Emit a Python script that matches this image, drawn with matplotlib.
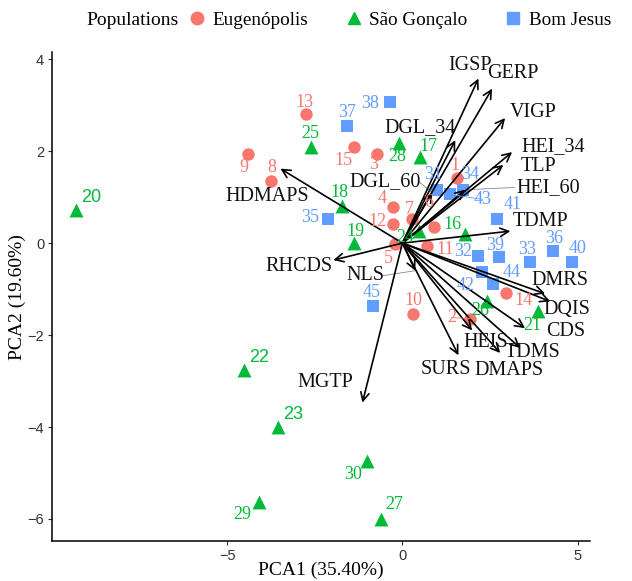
import matplotlib.pyplot as plt
from matplotlib.lines import Line2D

plt.rcParams['font.family'] = ['Liberation Serif', 'DejaVu Serif']

# individuals: PCA scores
eug_id = [1, 2, 3, 4, 5, 6, 7, 8, 9, 10, 11, 12, 13, 14, 15]
eug_x = [1.57, 1.94, -0.71, -0.28, -0.20, 0.91, 0.28, -3.76, -4.39, 0.31, 0.71, -0.26, -2.74, 2.96, -1.37]
eug_y = [1.42, -1.64, 1.94, 0.78, -0.02, 0.34, 0.52, 1.34, 1.94, -1.55, -0.06, 0.41, 2.80, -1.08, 2.09]
eug_lx = [1.51, 1.40, -0.83, -0.58, -0.40, 0.74, 0.20, -3.73, -4.53, 0.31, 1.23, -0.71, -2.79, 3.45, -1.68]
eug_ly = [1.68, -1.62, 1.70, 0.97, -0.34, 0.88, 0.73, 1.64, 1.64, -1.25, -0.13, 0.47, 3.06, -1.25, 1.79]

sg_id = [16, 17, 18, 19, 20, 21, 22, 23, 24, 25, 26, 27, 28, 29, 30]
sg_x = [1.79, 0.51, -1.71, -1.37, -9.32, 3.87, -4.53, -3.56, 0.46, -2.62, 2.42, -0.60, -0.09, -4.10, -1.00]
sg_y = [0.19, 1.88, 0.80, 0.00, 0.71, -1.47, -2.76, -4.01, 0.26, 2.09, -1.25, -5.99, 2.18, -5.63, -4.74]
sg_lx = [1.42, 0.74, -1.79, -1.34, -8.89, 3.70, -4.10, -3.13, 0.09, -2.62, 2.22, -0.23, -0.14, -4.56, -1.42]
sg_ly = [0.41, 2.11, 1.10, 0.26, 0.99, -1.80, -2.48, -3.73, 0.13, 2.39, -1.47, -5.69, 1.88, -5.91, -5.04]

bj_id = [31, 32, 33, 34, 35, 36, 37, 38, 39, 40, 41, 42, 43, 44, 45]
bj_x = [1.00, 2.17, 3.65, 1.74, -2.11, 4.30, -1.57, -0.34, 2.76, 4.84, 2.71, 2.28, 1.37, 2.59, -0.83]
bj_y = [1.16, -0.28, -0.41, 1.16, 0.52, -0.17, 2.54, 3.06, -0.30, -0.41, 0.52, -0.63, 1.06, -0.88, -1.36]
bj_lx = [0.88, 1.74, 3.56, 1.94, -2.62, 4.32, -1.57, -0.91, 2.65, 5.01, 3.15, 1.79, 2.28, 3.11, -0.88]
bj_ly = [1.49, -0.19, -0.13, 1.49, 0.56, 0.09, 2.84, 3.04, -0.06, -0.11, 0.84, -0.93, 0.95, -0.63, -1.08]

# variable loadings (arrow tips) and their label positions
var_names = ['IGSP', 'GERP', 'VIGP', 'HEI_34', 'TLP', 'HEI_60', 'DGL_34', 'DGL_60', 'HDMAPS',
             'TDMP', 'RHCDS', 'NLS', 'DMRS', 'DQIS', 'CDS', 'TDMS', 'DMAPS', 'HEIS', 'SURS', 'MGTP']
var_x = [2.17, 2.56, 2.93, 3.13, 2.88, 1.79, 1.51, 0.85, -3.48,
         3.08, -1.97, 0.37, 4.07, 4.22, 3.50, 3.36, 2.79, 1.99, 1.60, -1.14]
var_y = [3.58, 3.36, 2.72, 1.98, 1.70, 1.16, 2.24, 1.10, 1.62,
         0.26, -0.37, -0.60, -1.10, -1.27, -1.85, -2.28, -2.39, -1.90, -2.44, -3.47]
var_lx = [1.94, 3.16, 3.73, 4.30, 3.87, 4.16, 0.51, -0.50, -3.85,
          3.95, -2.96, -1.05, 4.50, 4.70, 4.67, 3.72, 3.05, 2.39, 1.23, -2.19]
var_ly = [3.86, 3.69, 2.84, 2.09, 1.66, 1.21, 2.52, 1.34, 1.01,
          0.46, -0.50, -0.71, -0.82, -1.44, -1.92, -2.39, -2.78, -2.16, -2.75, -3.04]
var_segment = ['HEI_60', 'DGL_60', 'NLS']

groups = ['Eugenópolis', 'São Gonçalo', 'Bom Jesus']
colors = ['#F8766D', '#00BA38', '#619CFF']
markers = ['o', '^', 's']
sans_labels = [20, 22, 23]

fig = plt.figure(figsize=(6.32, 5.81), dpi=100)
ax = fig.add_axes([0.082, 0.068, 0.852, 0.842])

data = [(eug_id, eug_x, eug_y, eug_lx, eug_ly),
        (sg_id, sg_x, sg_y, sg_lx, sg_ly),
        (bj_id, bj_x, bj_y, bj_lx, bj_ly)]

for (ids, xs, ys, lxs, lys), col, mk in zip(data, colors, markers):
    size = {'o': 80, '^': 100, 's': 75}[mk]
    ax.scatter(xs, ys, s=size, marker=mk, color=col, linewidths=0, zorder=2)
    for i, x, y, lx, ly in zip(ids, xs, ys, lxs, lys):
        fam = ['Liberation Sans'] if i in sans_labels else ['Liberation Serif']
        ax.text(lx, ly, str(i), color=col, fontsize=13, family=fam,
                ha='center', va='center', zorder=5)
        if i in (2, 43):
            ax.plot([x, lx], [y, ly], color=col, lw=0.6, zorder=4)

for name, x, y, lx, ly in zip(var_names, var_x, var_y, var_lx, var_ly):
    ax.annotate('', xy=(x, y), xytext=(0, 0),
                arrowprops=dict(arrowstyle='->', lw=1.2, color='black',
                                shrinkA=0, shrinkB=0, mutation_scale=15),
                zorder=3)
    ax.text(lx, ly, name, fontsize=14.5, ha='center', va='center', color='#111111', zorder=5)
    if name in var_segment:
        half = 0.16 * len(name)
        edge = lx - half if lx > x else lx + half
        ax.plot([x, edge], [y, ly], color='#888888', lw=0.6, zorder=2)

ax.set_xlim(-10.0, 5.36)
ax.set_ylim(-6.49, 4.15)
ax.set_xticks([-5, 0, 5])
ax.set_yticks([-6, -4, -2, 0, 2, 4])
ax.set_xticklabels(['\u22125', '0', '5'], family=['Liberation Sans'], fontsize=10.5, color='#333333')
ax.set_yticklabels(['\u22126', '\u22124', '\u22122', '0', '2', '4'], family=['Liberation Sans'],
                   fontsize=10.5, color='#333333')
ax.tick_params(length=3, color='#333333', width=0.8, pad=2.5)
for s in ['top', 'right']:
    ax.spines[s].set_visible(False)
for s in ['left', 'bottom']:
    ax.spines[s].set_linewidth(1.1)
ax.set_xlabel('PCA1 (35.40%)', fontsize=14, labelpad=-1)
ax.set_ylabel('PCA2 (19.60%)', fontsize=14, labelpad=1)

handles = [Line2D([], [], marker=m, color=c, linestyle='none', markersize=9)
           for m, c in zip(markers, colors)]
fig.text(0.137, 0.965, 'Populations', fontsize=14, va='center', ha='left')
fig.legend(handles, groups, loc='center left', bbox_to_anchor=(0.296, 0.965), ncol=3,
           frameon=False, fontsize=13.8, handletextpad=0.3, columnspacing=1.9,
           borderpad=0, borderaxespad=0, handlelength=1.0)

fig.savefig('out.png', dpi=100)
